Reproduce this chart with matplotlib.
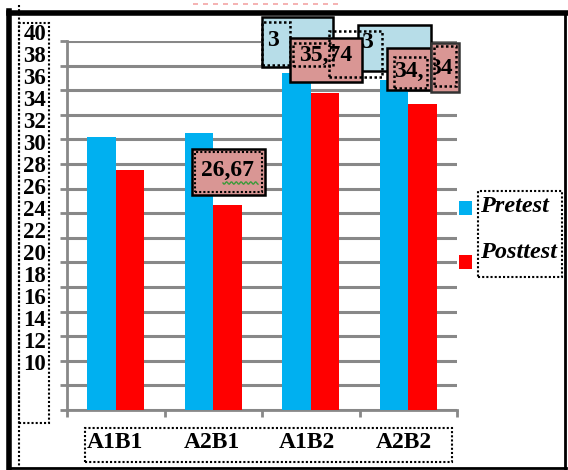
import numpy as np
import matplotlib
matplotlib.use('Agg')
import matplotlib.pyplot as plt
from matplotlib.patches import Rectangle
from matplotlib.lines import Line2D

categories = ['A1B1', 'A2B1', 'A1B2', 'A2B2']
series = ['Pretest', 'Posttest']
pretest = [32.2, 32.5, 37.4, 36.8]
posttest = [29.5, 26.67, 35.74, 34.9]
ytick_labels = [str(v) for v in range(40, 8, -2)]

W, H = 568, 470
BLUE = '#00b0f0'
RED = '#ff0000'
PINK = '#d99694'
LBLUE = '#b7dde8'
GRID = '#888888'
SERIF = 'Liberation Serif'

fig = plt.figure(figsize=(W / 100, H / 100), dpi=100)


def fx(x):
    return x / W


def fy(y):
    return 1 - y / H


def box(x0, y0, x1, y1, fc='none', ec='black', lw=1.8, ls='-', z=5):
    r = Rectangle((fx(x0), fy(y1)), fx(x1) - fx(x0), fy(y0) - fy(y1),
                  transform=fig.transFigure, facecolor=fc, edgecolor=ec,
                  linewidth=lw, linestyle=ls, zorder=z)
    fig.patches.append(r)
    return r


def line(xs, ys, color='black', lw=1.5, ls='-', z=5):
    fig.lines.append(Line2D([fx(x) for x in xs], [fy(y) for y in ys],
                            transform=fig.transFigure, color=color,
                            linewidth=lw, linestyle=ls, zorder=z))


# main axes
ax = fig.add_axes([fx(67), fy(410), fx(457) - fx(67), fy(41) - fy(410)])
x = np.arange(len(categories)) + 0.5
bw = 0.29
ax.bar(x - bw / 2, pretest, bw, color=BLUE, zorder=3)
ax.bar(x + bw / 2, posttest, bw, color=RED, zorder=3)
ax.set_xlim(0, 4)
ax.set_ylim(10, 40)
ax.set_yticks(np.arange(10, 41, 2))
ax.set_xticks(np.arange(0, 5))
ax.set_yticklabels([])
ax.set_xticklabels([])
ax.grid(axis='y', color=GRID, linewidth=2.2, zorder=1)
ax.set_axisbelow(True)
for s in ['top', 'right']:
    ax.spines[s].set_visible(False)
for s in ['left', 'bottom']:
    ax.spines[s].set_color(GRID)
    ax.spines[s].set_linewidth(2)
ax.tick_params(axis='both', length=5, width=2, color=GRID, direction='out')
ax.patch.set_visible(False)

# y labels (detached text box)
for i, lab in enumerate(ytick_labels):
    fig.text(fx(46), fy(34 + i * 22), lab, ha='right', va='center',
             fontsize=16.5, fontweight='bold', family=SERIF)
box(19, 23, 49, 423, ls=(0, (1, 1)), lw=1.5)
line([19, 19], [5, 466], ls=(0, (1, 1)), lw=1.5)

# x labels
xl_pos = [115, 212, 307, 404]
for px_, lab in zip(xl_pos, categories):
    fig.text(fx(px_), fy(443), lab, ha='center', va='center',
             fontsize=17, fontweight='bold', family=SERIF)
box(85, 428, 452, 462, ls=(0, (1, 1)), lw=1.5)

# legend
for i, (name, col) in enumerate(zip(series, [BLUE, RED])):
    my = 208 + i * 54
    box(459, my - 7, 472, my + 7, fc=col, ec='none', lw=0)
    fig.text(fx(480), fy(207 + i * 45), name, ha='left', va='center',
             fontsize=17.5, fontweight='bold', style='italic', family=SERIF)
box(478, 191, 562, 277, ls=(0, (1, 1)), lw=1.5)

# overlapping data-label boxes
box(262, 17, 333, 67, fc=LBLUE, z=6)
box(262, 22, 290, 65, ls=(0, (1, 1)), z=6.5)
fig.text(fx(273), fy(40), '3', ha='center', va='center', fontsize=17,
         fontweight='bold', family=SERIF, zorder=6.6)
box(358, 25, 431, 71, fc=LBLUE, z=6)
fig.text(fx(367), fy(42), '3', ha='center', va='center', fontsize=17,
         fontweight='bold', family=SERIF, zorder=6.6)
box(290, 38, 362, 82, fc=PINK, z=7)
box(293, 43, 333, 66, ls=(0, (1, 1)), z=7.5)
fig.text(fx(326), fy(55), '35,74', ha='center', va='center', fontsize=17,
         fontweight='bold', family=SERIF, zorder=7.6)
box(329, 31, 382, 77, ls=(0, (1, 1)), z=7.7)
box(387, 48, 431, 90, fc=PINK, z=8)
box(394, 57, 427, 88, ls=(0, (1, 1)), z=8.5)
fig.text(fx(409), fy(71), '34,', ha='center', va='center', fontsize=17,
         fontweight='bold', family=SERIF, zorder=8.6)
box(431, 43, 459, 92, fc=PINK, ec='#333333', z=8)
inner = box(434, 46, 456, 86, ls=(0, (1, 1)), z=8.5)
t = fig.text(fx(453), fy(68), '34', ha='right', va='center', fontsize=17,
             fontweight='bold', family=SERIF, zorder=8.6)
t.set_clip_path(inner)

box(192, 149, 265, 195, fc=PINK, z=7)
box(195, 152, 262, 192, ls=(0, (1, 1)), lw=1.5, z=7.5)
fig.text(fx(228), fy(170), '26,67', ha='center', va='center', fontsize=17,
         fontweight='bold', family=SERIF, zorder=7.6)
wx = np.linspace(223, 258, 40)
line(wx, 183 + 1.2 * np.sin((wx - 223) * 1.3), color='#3a9a3a', lw=1, z=7.7)

# outer frame
line([193, 343], [4, 4], color='#f4a5a5', lw=1.2, ls=(0, (3, 3)))
line([9, 566], [13, 13], lw=4, z=10)
line([9, 9], [11, 469], lw=4, z=10)
line([565, 565], [13, 469], lw=2, z=10)
line([9, 566], [468, 468], lw=2, z=10)

fig.savefig('out.png', dpi=100)
